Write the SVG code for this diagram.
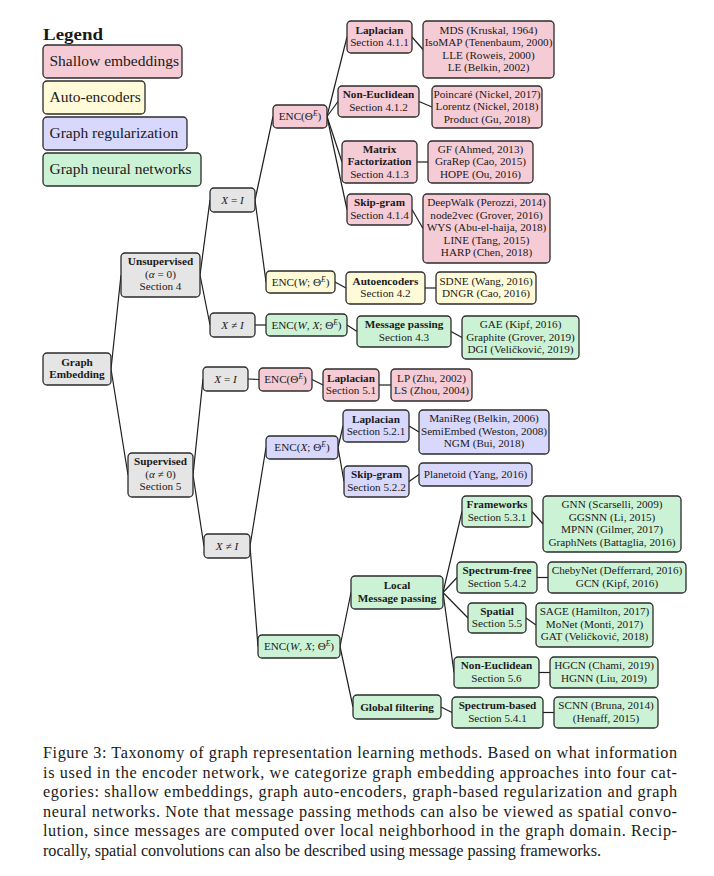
<svg xmlns="http://www.w3.org/2000/svg" width="714" height="876" viewBox="0 0 714 876">
  <style>
    text { font-family: "Liberation Serif", "DejaVu Serif", serif; fill: #1a1a1a; }
    .t { font-size: 11.2px; text-anchor: middle; }
    .b { font-weight: bold; }
    .i { font-style: italic; }
    .sup { font-size: 7.5px; font-style: italic; }
    .leg { font-size: 15.5px; }
    .cap { font-size: 16.2px; }
    rect { stroke: #2b2b2b; stroke-width: 1.3; rx: 4; ry: 4; }
    .pink { fill: #f5ccd6; }
    .yel { fill: #fffad7; }
    .lav { fill: #d8d8fc; }
    .grn { fill: #ccf2d6; }
    .gry { fill: #e5e5e5; }
    #edges line { stroke: #1f1f1f; stroke-width: 1.2; }
  </style>

  <!-- Legend -->
  <g id="legend">
    <text x="43" y="40" font-size="17" font-weight="bold" textLength="60" lengthAdjust="spacingAndGlyphs">Legend</text>
    <g id="leg-shallow"><rect class="pink" x="43" y="45" width="139" height="33"/><text class="leg" x="49.5" y="66">Shallow embeddings</text></g>
    <g id="leg-ae"><rect class="yel" x="43" y="81" width="102" height="33"/><text class="leg" x="49.5" y="102">Auto-encoders</text></g>
    <g id="leg-reg"><rect class="lav" x="43" y="117" width="144" height="33"/><text class="leg" x="49.5" y="138">Graph regularization</text></g>
    <g id="leg-gnn"><rect class="grn" x="43" y="153" width="158" height="33"/><text class="leg" x="49.5" y="174">Graph neural networks</text></g>
  </g>

  <!-- Connectors: parent east side to child west side -->
  <g id="edges">
    <line x1="111" y1="369" x2="121" y2="275"/>
    <line x1="111" y1="369" x2="128" y2="475"/>
    <line x1="200" y1="275" x2="210" y2="200"/>
    <line x1="200" y1="275" x2="210" y2="325"/>
    <line x1="193" y1="475" x2="203" y2="379"/>
    <line x1="193" y1="475" x2="204" y2="546"/>
    <line x1="255" y1="200" x2="273" y2="116.5"/>
    <line x1="255" y1="200" x2="266" y2="282"/>
    <line x1="255" y1="325" x2="266" y2="325"/>
    <line x1="248" y1="379" x2="259" y2="379.5"/>
    <line x1="250" y1="546" x2="266" y2="447.5"/>
    <line x1="250" y1="546" x2="258" y2="646.5"/>
    <line x1="327" y1="116.5" x2="347" y2="37"/>
    <line x1="327" y1="116.5" x2="338" y2="101.5"/>
    <line x1="327" y1="116.5" x2="342" y2="162"/>
    <line x1="327" y1="116.5" x2="347" y2="209.5"/>
    <line x1="412" y1="37" x2="423" y2="49.5"/>
    <line x1="419" y1="101.5" x2="432" y2="107"/>
    <line x1="417" y1="162" x2="428" y2="162"/>
    <line x1="412" y1="209.5" x2="423" y2="228.5"/>
    <line x1="335" y1="282" x2="346" y2="288"/>
    <line x1="425" y1="288" x2="436" y2="288"/>
    <line x1="347" y1="325" x2="357" y2="331.5"/>
    <line x1="451" y1="331.5" x2="462" y2="337.5"/>
    <line x1="312" y1="379.5" x2="323" y2="385"/>
    <line x1="379" y1="385" x2="391" y2="385"/>
    <line x1="338" y1="447.5" x2="343" y2="426"/>
    <line x1="338" y1="447.5" x2="344" y2="481.5"/>
    <line x1="409" y1="426" x2="419" y2="432"/>
    <line x1="409" y1="481.5" x2="419" y2="474.5"/>
    <line x1="340" y1="646.5" x2="351" y2="592.5"/>
    <line x1="340" y1="646.5" x2="353" y2="707"/>
    <line x1="443" y1="592.5" x2="462" y2="511.5"/>
    <line x1="443" y1="592.5" x2="457" y2="577.5"/>
    <line x1="443" y1="592.5" x2="468" y2="618"/>
    <line x1="443" y1="592.5" x2="454" y2="672.5"/>
    <line x1="532" y1="511.5" x2="543" y2="524"/>
    <line x1="537" y1="577.5" x2="548" y2="577.5"/>
    <line x1="526" y1="618" x2="536" y2="625"/>
    <line x1="539" y1="672.5" x2="550" y2="672.5"/>
    <line x1="441" y1="707" x2="452" y2="712.5"/>
    <line x1="543" y1="712.5" x2="554" y2="712.5"/>
  </g>

  <!-- Root and learning-setting nodes -->
  <g id="graph-embedding"><rect class="gry" x="43" y="353" width="68" height="32"/>
    <text class="t b" x="77" y="365.5">Graph</text><text class="t b" x="77" y="378">Embedding</text></g>
  <g id="unsupervised"><rect class="gry" x="121" y="253" width="79" height="44"/>
    <text class="t b" x="160.5" y="265.3">Unsupervised</text>
    <text class="t" x="160.5" y="277.8">(<tspan class="i">α</tspan> = 0)</text>
    <text class="t" x="160.5" y="290.3">Section 4</text></g>
  <g id="supervised"><rect class="gry" x="128" y="453" width="65" height="44"/>
    <text class="t b" x="160.5" y="465.3">Supervised</text>
    <text class="t" x="160.5" y="477.8">(<tspan class="i">α</tspan> ≠ 0)</text>
    <text class="t" x="160.5" y="490.3">Section 5</text></g>
  <g id="x-eq-i-unsup"><rect class="gry" x="210" y="188" width="45" height="24"/>
    <text class="t" x="232.5" y="203.8"><tspan class="i">X</tspan> = <tspan class="i">I</tspan></text></g>
  <g id="x-ne-i-unsup"><rect class="gry" x="210" y="313" width="45" height="24"/>
    <text class="t" x="232.5" y="328.8"><tspan class="i">X</tspan> ≠ <tspan class="i">I</tspan></text></g>
  <g id="x-eq-i-sup"><rect class="gry" x="203" y="367" width="45" height="24"/>
    <text class="t" x="225.5" y="382.8"><tspan class="i">X</tspan> = <tspan class="i">I</tspan></text></g>
  <g id="x-ne-i-sup"><rect class="gry" x="204" y="534" width="46" height="24"/>
    <text class="t" x="227" y="549.8"><tspan class="i">X</tspan> ≠ <tspan class="i">I</tspan></text></g>

  <!-- Encoder nodes -->
  <g id="enc-theta-unsup"><rect class="pink" x="273" y="105" width="54" height="23"/>
    <text class="t" x="300" y="120.3">ENC(Θ<tspan class="sup" dy="-4">E</tspan><tspan dy="4">)</tspan></text></g>
  <g id="enc-w-theta"><rect class="yel" x="266" y="271" width="69" height="22"/>
    <text class="t" x="300.5" y="285.8">ENC(<tspan class="i">W</tspan>; Θ<tspan class="sup" dy="-4">E</tspan><tspan dy="4">)</tspan></text></g>
  <g id="enc-wx-theta-unsup"><rect class="grn" x="266" y="314" width="81" height="22"/>
    <text class="t" x="306.5" y="328.8">ENC(<tspan class="i">W</tspan>, <tspan class="i">X</tspan>; Θ<tspan class="sup" dy="-4">E</tspan><tspan dy="4">)</tspan></text></g>
  <g id="enc-theta-sup"><rect class="pink" x="259" y="368" width="53" height="23"/>
    <text class="t" x="285.5" y="383.3">ENC(Θ<tspan class="sup" dy="-4">E</tspan><tspan dy="4">)</tspan></text></g>
  <g id="enc-x-theta"><rect class="lav" x="266" y="436" width="72" height="23"/>
    <text class="t" x="302" y="451.3">ENC(<tspan class="i">X</tspan>; Θ<tspan class="sup" dy="-4">E</tspan><tspan dy="4">)</tspan></text></g>
  <g id="enc-wx-theta-sup"><rect class="grn" x="258" y="635" width="82" height="23"/>
    <text class="t" x="299" y="650.3">ENC(<tspan class="i">W</tspan>, <tspan class="i">X</tspan>; Θ<tspan class="sup" dy="-4">E</tspan><tspan dy="4">)</tspan></text></g>

  <!-- Shallow embeddings -->
  <g id="laplacian-411"><rect class="pink" x="347" y="21" width="65" height="32"/>
    <text class="t b" x="379.5" y="33.5">Laplacian</text><text class="t" x="379.5" y="46">Section 4.1.1</text></g>
  <g id="laplacian-411-methods"><rect class="pink" x="423" y="21" width="131" height="57"/>
    <text class="t" x="488.5" y="33.5">MDS (Kruskal, 1964)</text>
    <text class="t" x="488.5" y="46">IsoMAP (Tenenbaum, 2000)</text>
    <text class="t" x="488.5" y="58.5">LLE (Roweis, 2000)</text>
    <text class="t" x="488.5" y="71">LE (Belkin, 2002)</text></g>
  <g id="non-euclidean-412"><rect class="pink" x="338" y="86" width="81" height="31"/>
    <text class="t b" x="378.5" y="98">Non-Euclidean</text><text class="t" x="378.5" y="110.5">Section 4.1.2</text></g>
  <g id="non-euclidean-412-methods"><rect class="pink" x="432" y="86" width="110" height="42"/>
    <text class="t" x="487" y="97.8">Poincaré (Nickel, 2017)</text>
    <text class="t" x="487" y="110.3">Lorentz (Nickel, 2018)</text>
    <text class="t" x="487" y="122.8">Product (Gu, 2018)</text></g>
  <g id="matrix-factorization-413"><rect class="pink" x="342" y="141" width="75" height="42"/>
    <text class="t b" x="379.5" y="152.8">Matrix</text><text class="t b" x="379.5" y="165.3">Factorization</text>
    <text class="t" x="379.5" y="177.8">Section 4.1.3</text></g>
  <g id="matrix-factorization-413-methods"><rect class="pink" x="428" y="141" width="105" height="42"/>
    <text class="t" x="480.5" y="152.8">GF (Ahmed, 2013)</text>
    <text class="t" x="480.5" y="165.3">GraRep (Cao, 2015)</text>
    <text class="t" x="480.5" y="177.8">HOPE (Ou, 2016)</text></g>
  <g id="skip-gram-414"><rect class="pink" x="347" y="194" width="65" height="31"/>
    <text class="t b" x="379.5" y="206">Skip-gram</text><text class="t" x="379.5" y="218.5">Section 4.1.4</text></g>
  <g id="skip-gram-414-methods"><rect class="pink" x="423" y="194" width="127" height="69"/>
    <text class="t" x="486.5" y="206.3">DeepWalk (Perozzi, 2014)</text>
    <text class="t" x="486.5" y="218.8">node2vec (Grover, 2016)</text>
    <text class="t" x="486.5" y="231.3">WYS (Abu-el-haija, 2018)</text>
    <text class="t" x="486.5" y="243.8">LINE (Tang, 2015)</text>
    <text class="t" x="486.5" y="256.3">HARP (Chen, 2018)</text></g>

  <!-- Auto-encoders -->
  <g id="autoencoders-42"><rect class="yel" x="346" y="272" width="79" height="32"/>
    <text class="t b" x="385.5" y="284.5">Autoencoders</text><text class="t" x="385.5" y="297">Section 4.2</text></g>
  <g id="autoencoders-42-methods"><rect class="yel" x="436" y="272" width="100" height="32"/>
    <text class="t" x="486" y="284.5">SDNE (Wang, 2016)</text><text class="t" x="486" y="297">DNGR (Cao, 2016)</text></g>
  <g id="message-passing-43"><rect class="grn" x="357" y="316" width="94" height="31"/>
    <text class="t b" x="404" y="328">Message passing</text><text class="t" x="404" y="340.5">Section 4.3</text></g>
  <g id="message-passing-43-methods"><rect class="grn" x="462" y="316" width="117" height="43"/>
    <text class="t" x="520.5" y="328.3">GAE (Kipf, 2016)</text>
    <text class="t" x="520.5" y="340.8">Graphite (Grover, 2019)</text>
    <text class="t" x="520.5" y="353.3">DGI (Veličković, 2019)</text></g>

  <!-- Graph regularization -->
  <g id="laplacian-51"><rect class="pink" x="323" y="369" width="56" height="32"/>
    <text class="t b" x="351" y="381.5">Laplacian</text><text class="t" x="351" y="394">Section 5.1</text></g>
  <g id="laplacian-51-methods"><rect class="pink" x="391" y="369" width="81" height="32"/>
    <text class="t" x="431.5" y="381.5">LP (Zhu, 2002)</text><text class="t" x="431.5" y="394">LS (Zhou, 2004)</text></g>
  <g id="laplacian-521"><rect class="lav" x="343" y="410" width="66" height="32"/>
    <text class="t b" x="376" y="422.5">Laplacian</text><text class="t" x="376" y="435">Section 5.2.1</text></g>
  <g id="laplacian-521-methods"><rect class="lav" x="419" y="410" width="130" height="44"/>
    <text class="t" x="484" y="422.3">ManiReg (Belkin, 2006)</text>
    <text class="t" x="484" y="434.8">SemiEmbed (Weston, 2008)</text>
    <text class="t" x="484" y="447.3">NGM (Bui, 2018)</text></g>
  <g id="skip-gram-522"><rect class="lav" x="344" y="466" width="65" height="31"/>
    <text class="t b" x="376.5" y="478">Skip-gram</text><text class="t" x="376.5" y="490.5">Section 5.2.2</text></g>
  <g id="skip-gram-522-methods"><rect class="lav" x="419" y="463" width="113" height="23"/>
    <text class="t" x="475.5" y="478.3">Planetoid (Yang, 2016)</text></g>

  <!-- Graph neural networks -->
  <g id="local-message-passing"><rect class="grn" x="351" y="576" width="92" height="33"/>
    <text class="t b" x="397" y="589">Local</text><text class="t b" x="397" y="601.5">Message passing</text></g>
  <g id="global-filtering"><rect class="grn" x="353" y="695" width="88" height="24"/>
    <text class="t b" x="397" y="710.8">Global filtering</text></g>
  <g id="frameworks-531"><rect class="grn" x="462" y="496" width="70" height="31"/>
    <text class="t b" x="497" y="508">Frameworks</text><text class="t" x="497" y="520.5">Section 5.3.1</text></g>
  <g id="frameworks-531-methods"><rect class="grn" x="543" y="496" width="138" height="56"/>
    <text class="t" x="612" y="508.3">GNN (Scarselli, 2009)</text>
    <text class="t" x="612" y="520.8">GGSNN (Li, 2015)</text>
    <text class="t" x="612" y="533.3">MPNN (Gilmer, 2017)</text>
    <text class="t" x="612" y="545.8">GraphNets (Battaglia, 2016)</text></g>
  <g id="spectrum-free-542"><rect class="grn" x="457" y="562" width="80" height="31"/>
    <text class="t b" x="497" y="574">Spectrum-free</text><text class="t" x="497" y="586.5">Section 5.4.2</text></g>
  <g id="spectrum-free-542-methods"><rect class="grn" x="548" y="562" width="138" height="31"/>
    <text class="t" x="617" y="574">ChebyNet (Defferrard, 2016)</text><text class="t" x="617" y="586.5">GCN (Kipf, 2016)</text></g>
  <g id="spatial-55"><rect class="grn" x="468" y="603" width="58" height="30"/>
    <text class="t b" x="497" y="614.5">Spatial</text><text class="t" x="497" y="627">Section 5.5</text></g>
  <g id="spatial-55-methods"><rect class="grn" x="536" y="603" width="117" height="44"/>
    <text class="t" x="594.5" y="615.3">SAGE (Hamilton, 2017)</text>
    <text class="t" x="594.5" y="627.8">MoNet (Monti, 2017)</text>
    <text class="t" x="594.5" y="640.3">GAT (Veličković, 2018)</text></g>
  <g id="non-euclidean-56"><rect class="grn" x="454" y="657" width="85" height="31"/>
    <text class="t b" x="496.5" y="669">Non-Euclidean</text><text class="t" x="496.5" y="681.5">Section 5.6</text></g>
  <g id="non-euclidean-56-methods"><rect class="grn" x="550" y="657" width="108" height="31"/>
    <text class="t" x="604" y="669">HGCN (Chami, 2019)</text><text class="t" x="604" y="681.5">HGNN (Liu, 2019)</text></g>
  <g id="spectrum-based-541"><rect class="grn" x="452" y="697" width="91" height="31"/>
    <text class="t b" x="497.5" y="709">Spectrum-based</text><text class="t" x="497.5" y="721.5">Section 5.4.1</text></g>
  <g id="spectrum-based-541-methods"><rect class="grn" x="554" y="697" width="104" height="31"/>
    <text class="t" x="606" y="709">SCNN (Bruna, 2014)</text><text class="t" x="606" y="721.5">(Henaff, 2015)</text></g>

  <!-- Caption -->
  <g id="caption">
    <text class="cap" x="43" y="758" textLength="634" lengthAdjust="spacing">Figure 3: Taxonomy of graph representation learning methods. Based on what information</text>
    <text class="cap" x="43" y="777.6" textLength="634" lengthAdjust="spacing">is used in the encoder network, we categorize graph embedding approaches into four cat-</text>
    <text class="cap" x="43" y="797.2" textLength="634" lengthAdjust="spacing">egories: shallow embeddings, graph auto-encoders, graph-based regularization and graph</text>
    <text class="cap" x="43" y="816.8" textLength="634" lengthAdjust="spacing">neural networks. Note that message passing methods can also be viewed as spatial convo-</text>
    <text class="cap" x="43" y="836.4" textLength="634" lengthAdjust="spacing">lution, since messages are computed over local neighborhood in the graph domain. Recip-</text>
    <text class="cap" x="43" y="856" textLength="558" lengthAdjust="spacing">rocally, spatial convolutions can also be described using message passing frameworks.</text>
  </g>
</svg>
